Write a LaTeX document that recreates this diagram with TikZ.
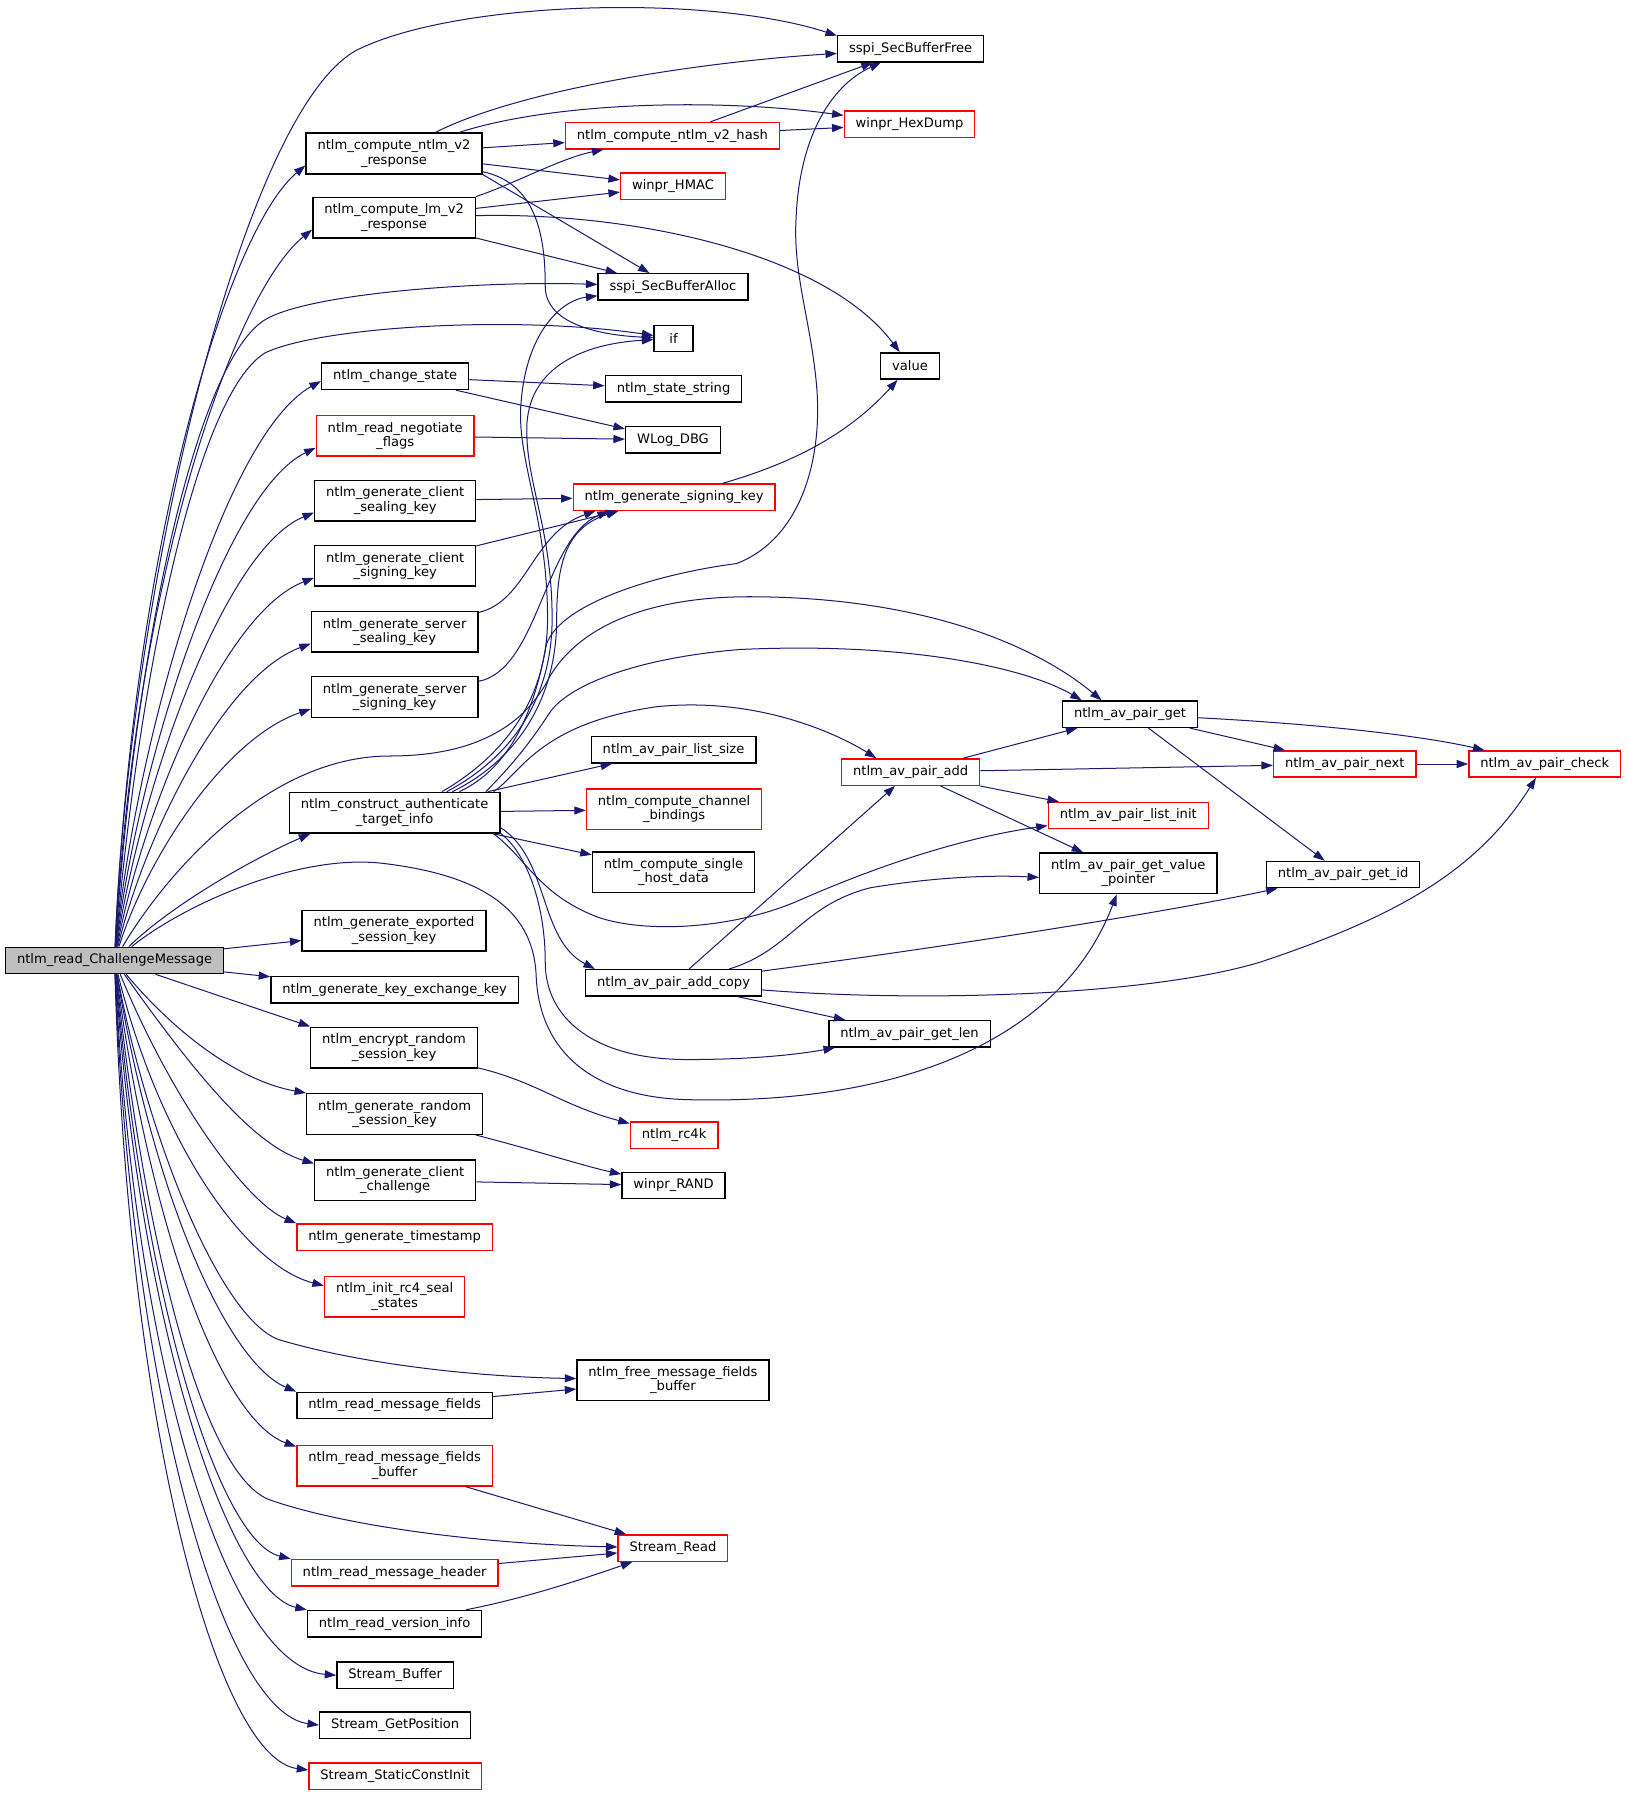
\documentclass[tikz,border=0pt]{standalone}
\usepackage{fontspec}
\setmainfont{DejaVu Sans}
\usepackage{tikz}
\usetikzlibrary{arrows.meta}
\definecolor{bleuappel}{HTML}{191970}
\definecolor{grisracine}{HTML}{BFBFBF}
\begin{document}
\begin{tikzpicture}[x=0.02cm, y=-0.02cm,
  fonc/.style={draw=black, line width=0.7pt, fill=white, inner xsep=0.2cm, inner ysep=1pt,
    minimum height=0.46cm, align=center, font=\fontsize{6.5}{7.1}\selectfont},
  fonc rouge/.style={fonc, draw=red},
  racine/.style={fonc, fill=grisracine},
  deux/.style={minimum height=0.71cm},
  appel/.style={draw=bleuappel, line width=0.5pt, -{Triangle[length=0.2cm,width=0.14cm]}}]
\useasboundingbox (0,0) rectangle (1420.4,1568.8);
% les noeuds
\node[racine] (rcm) at (100,838.5) {ntlm\_read\_ChallengeMessage};
\node[fonc] (sbfree) at (795,42.5) {sspi\_SecBufferFree};
\node[fonc rouge] (hexdump) at (794,108.5) {winpr\_HexDump};
\node[fonc, deux] (ntlmv2resp) at (344,134) {ntlm\_compute\_ntlm\_v2\\\_response};
\node[fonc rouge] (ntlmv2hash) at (587,118.5) {ntlm\_compute\_ntlm\_v2\_hash};
\node[fonc rouge] (hmac) at (587.5,162.5) {winpr\_HMAC};
\node[fonc, deux] (lmv2resp) at (344,190) {ntlm\_compute\_lm\_v2\\\_response};
\node[fonc] (sballoc) at (587.5,250.5) {sspi\_SecBufferAlloc};
\node[fonc, minimum width=0.68cm] (iff) at (588,295.5) {if};
\node[fonc] (value) at (794.5,319.5) {value};
\node[fonc] (chstate) at (345,328.5) {ntlm\_change\_state};
\node[fonc] (statestr) at (588,339.5) {ntlm\_state\_string};
\node[fonc rouge, deux] (negflags) at (345,380.5) {ntlm\_read\_negotiate\\\_flags};
\node[fonc] (wlog) at (587.5,384) {WLog\_DBG};
\node[fonc, deux] (csealkey) at (345,437) {ntlm\_generate\_client\\\_sealing\_key};
\node[fonc rouge] (signkey) at (588.5,434) {ntlm\_generate\_signing\_key};
\node[fonc, deux] (csignkey) at (345,494) {ntlm\_generate\_client\\\_signing\_key};
\node[fonc, deux] (ssealkey) at (344.5,551.5) {ntlm\_generate\_server\\\_sealing\_key};
\node[fonc, deux] (ssignkey) at (344.5,608.5) {ntlm\_generate\_server\\\_signing\_key};
\node[fonc] (apget) at (986.5,623.5) {ntlm\_av\_pair\_get};
\node[fonc] (aplsize) at (588,654.5) {ntlm\_av\_pair\_list\_size};
\node[fonc rouge] (apadd) at (795,674) {ntlm\_av\_pair\_add};
\node[fonc rouge] (apnext) at (1174,667) {ntlm\_av\_pair\_next};
\node[fonc rouge] (apcheck) at (1348.5,667) {ntlm\_av\_pair\_check};
\node[fonc, deux] (cati) at (344.5,709.5) {ntlm\_construct\_authenticate\\\_target\_info};
\node[fonc rouge, deux] (chanbind) at (588.5,706.5) {ntlm\_compute\_channel\\\_bindings};
\node[fonc rouge] (aplinit) at (985,712) {ntlm\_av\_pair\_list\_init};
\node[fonc, deux] (shdata) at (588,761.5) {ntlm\_compute\_single\\\_host\_data};
\node[fonc, deux] (apvalptr) at (985,762.5) {ntlm\_av\_pair\_get\_value\\\_pointer};
\node[fonc] (apgetid) at (1172.5,763.5) {ntlm\_av\_pair\_get\_id};
\node[fonc, deux] (expkey) at (344,812.5) {ntlm\_generate\_exported\\\_session\_key};
\node[fonc] (apcopy) at (588,858) {ntlm\_av\_pair\_add\_copy};
\node[fonc] (kxkey) at (344.5,864) {ntlm\_generate\_key\_exchange\_key};
\node[fonc] (aplen) at (794,902.5) {ntlm\_av\_pair\_get\_len};
\node[fonc, deux] (encrkey) at (344,914.5) {ntlm\_encrypt\_random\\\_session\_key};
\node[fonc, deux] (randkey) at (344.5,972.5) {ntlm\_generate\_random\\\_session\_key};
\node[fonc rouge] (rc4k) at (588.5,991) {ntlm\_rc4k};
\node[fonc, deux] (cchal) at (345,1030.5) {ntlm\_generate\_client\\\_challenge};
\node[fonc] (rand) at (588,1035) {winpr\_RAND};
\node[fonc rouge] (tstamp) at (344.5,1080) {ntlm\_generate\_timestamp};
\node[fonc rouge, deux] (rc4seal) at (344.5,1132) {ntlm\_init\_rc4\_seal\\\_states};
\node[fonc, deux] (freebuf) at (587.5,1205) {ntlm\_free\_message\_fields\\\_buffer};
\node[fonc] (rdfields) at (344.5,1227) {ntlm\_read\_message\_fields};
\node[fonc rouge, deux] (rdfbuf) at (344.5,1279.5) {ntlm\_read\_message\_fields\\\_buffer};
\node[fonc rouge] (sread) at (587.5,1351.5) {Stream\_Read};
\node[fonc rouge] (rdhdr) at (344.5,1373) {ntlm\_read\_message\_header};
\node[fonc] (rdver) at (344.5,1417.5) {ntlm\_read\_version\_info};
\node[fonc] (sbuffer) at (345,1462.5) {Stream\_Buffer};
\node[fonc] (sgetpos) at (345,1506) {Stream\_GetPosition};
\node[fonc rouge] (sinit) at (345,1550.5) {Stream\_StaticConstInit};
% appels vers le haut
\draw[appel] (rcm) .. controls (112,520) and (212,96) .. (311.8,43.6) .. controls (400,0) and (620,-5) .. (sbfree.170);
\draw[appel] (rcm) .. controls (116,470) and (200,200) .. ([yshift=4.5pt]ntlmv2resp.south west);
\draw[appel] (rcm) .. controls (118,500) and (205,255) .. ([yshift=4.5pt]lmv2resp.south west);
\draw[appel] (rcm) .. controls (118,560) and (172,315) .. (231.6,279) .. controls (270,256) and (420,245) .. (sballoc);
\draw[appel] (rcm) .. controls (120,600) and (170,345) .. (231.6,308) .. controls (280,285) and (450,275) .. (iff);
\draw[appel] (rcm) .. controls (118,650) and (195,380) .. ([yshift=4.5pt]chstate.south west);
\draw[appel] (rcm) .. controls (120,670) and (195,430) .. ([yshift=4.5pt]negflags.south west);
\draw[appel] (rcm) .. controls (122,690) and (195,480) .. ([yshift=4.5pt]csealkey.south west);
\draw[appel] (rcm) .. controls (124,710) and (195,535) .. ([yshift=4.5pt]csignkey.south west);
\draw[appel] (rcm) .. controls (126,730) and (195,590) .. ([yshift=4.5pt]ssealkey.south west);
\draw[appel] (rcm) .. controls (128,750) and (195,645) .. ([yshift=4.5pt]ssignkey.south west);
\draw[appel] (rcm) .. controls (140,770) and (230,660) .. (340,660) .. controls (420,660) and (460,630) .. (480,590.6)
  .. controls (510,540) and (580,520) .. (660,521) .. controls (800,522) and (900,560) .. (apget.154);
\draw[appel] (rcm) .. controls (150,790) and (220,750) .. (cati.194);
\draw[appel] (rcm) .. controls (160,790) and (260,745) .. (334,753.7) .. controls (430,765) and (465,800) .. (468,850)
  .. controls (470,920) and (520,958) .. (600,960) .. controls (800,965) and (930,900) .. (apvalptr.241);
\draw[appel] (rcm) -- (expkey);
\draw[appel] (rcm) -- (kxkey);
% appels vers le bas
\draw[appel] (rcm) -- (encrkey.north west);
\draw[appel] (rcm) .. controls (160,910) and (215,945) .. (randkey.north west);
\draw[appel] (rcm) .. controls (165,930) and (220,1000) .. ([yshift=-2pt]cchal.north west);
\draw[appel] (rcm) .. controls (150,960) and (215,1050) .. (tstamp.north west);
\draw[appel] (rcm) .. controls (140,1000) and (215,1105) .. ([yshift=-5pt]rc4seal.north west);
\draw[appel] (rcm) .. controls (130,1000) and (195,1155) .. (245,1170) .. controls (320,1192) and (420,1202) .. (freebuf);
\draw[appel] (rcm) .. controls (135,1050) and (200,1190) .. (rdfields.north west);
\draw[appel] (rcm) .. controls (132,1080) and (195,1240) .. ([yshift=-1pt]rdfbuf.north west);
\draw[appel] (rcm) .. controls (128,1100) and (180,1290) .. (235.9,1309.5) .. controls (300,1332) and (420,1348) .. (sread);
\draw[appel] (rcm) .. controls (125,1130) and (190,1345) .. (rdhdr.north west);
\draw[appel] (rcm) .. controls (122,1160) and (200,1390) .. (rdver.north west);
\draw[appel] (rcm) .. controls (118,1200) and (200,1455) .. (sbuffer.west);
\draw[appel] (rcm) .. controls (115,1220) and (195,1495) .. (sgetpos.west);
\draw[appel] (rcm) .. controls (112,1250) and (190,1535) .. ([yshift=3pt]sinit.west);
% colonne du milieu
\draw[appel] (ntlmv2resp) .. controls (450,80) and (600,55) .. (sbfree);
\draw[appel] (ntlmv2resp) .. controls (480,90) and (620,85) .. (hexdump);
\draw[appel] (ntlmv2resp) -- (ntlmv2hash);
\draw[appel] (ntlmv2resp) -- (hmac);
\draw[appel] (ntlmv2resp.south east) -- (sballoc);
\draw[appel] (ntlmv2resp) .. controls (470,160) and (476,210) .. (476,250) .. controls (476,285) and (530,293) .. (iff);
\draw[appel] (ntlmv2hash) -- (sbfree);
\draw[appel] (ntlmv2hash) -- (hexdump);
\draw[appel] (lmv2resp.north east) .. controls (450,160) and (490,138) .. (ntlmv2hash);
\draw[appel] (lmv2resp) -- (hmac);
\draw[appel] (lmv2resp) .. controls (550,185) and (720,220) .. (value);
\draw[appel] (lmv2resp) -- (sballoc);
\draw[appel] (chstate) -- (statestr);
\draw[appel] (chstate) -- (wlog);
\draw[appel] (negflags) -- (wlog);
\draw[appel] (csealkey) -- (signkey);
\draw[appel] (csignkey) -- (signkey);
\draw[appel] (ssealkey) .. controls (460,525) and (465,465) .. (signkey.190);
\draw[appel] (ssignkey) .. controls (470,585) and (475,470) .. (signkey.192);
\draw[appel] (signkey) .. controls (690,405) and (740,380) .. (value);
% ntlm_construct_authenticate_target_info
\draw[appel] (cati.24) .. controls (440,660) and (478,610) .. (478,540) .. controls (478,450) and (450,400) .. (455,350)
  .. controls (460,290) and (490,262) .. (sballoc);
\draw[appel] (cati.22) .. controls (445,662) and (482,612) .. (482,540) .. controls (482,460) and (458,420) .. (460,370)
  .. controls (463,320) and (510,300) .. (iff);
\draw[appel] (cati.20) .. controls (450,664) and (486,612) .. (486,540) .. controls (486,490) and (495,460) .. (signkey.194);
\draw[appel] (cati.18) .. controls (455,666) and (470,600) .. (477,562.6) .. controls (490,525) and (580,500) .. (643,492)
  .. controls (700,470) and (718,400) .. (713,338) .. controls (708,280) and (692,240) .. (695,190)
  .. controls (698,120) and (725,75) .. (sbfree);
\draw[appel] (cati.13) .. controls (450,665) and (465,645) .. (480,622) .. controls (495,600) and (550,575) .. (646,567)
  .. controls (800,560) and (900,585) .. (apget.164);
\draw[appel] (cati.12) .. controls (455,675) and (470,632) .. (573,617) .. controls (660,608) and (730,640) .. (apadd.158);
\draw[appel] (cati) -- (aplsize);
\draw[appel] (cati) -- (chanbind);
\draw[appel] (cati) -- (shdata);
\draw[appel] (cati.348) .. controls (460,750) and (470,780) .. (520,800) .. controls (560,815) and (640,812) .. (700,785)
  .. controls (780,750) and (850,730) .. ([yshift=-5pt]aplinit.west);
\draw[appel] (cati.352) .. controls (480,750) and (470,820) .. (apcopy.170);
\draw[appel] (cati.349) .. controls (460,745) and (476,790) .. (476,840) .. controls (476,890) and (520,925) .. (600,925)
  .. controls (660,925) and (700,920) .. (aplen);
% paires av
\draw[appel] (apadd) -- (apget);
\draw[appel] (apadd) -- (apnext);
\draw[appel] (apadd) -- (aplinit);
\draw[appel] (apadd) -- (apvalptr);
\draw[appel] (apget) -- (apnext);
\draw[appel] (apget) .. controls (1150,632) and (1240,642) .. (apcheck);
\draw[appel] (apget) -- (apgetid);
\draw[appel] (apnext) -- (apcheck);
\draw[appel] (apcopy) -- (apadd);
\draw[appel] (apcopy.14) .. controls (690,830) and (700,790) .. (760,775) .. controls (820,765) and (870,764) .. ([yshift=-2pt]apvalptr.west);
\draw[appel] (apcopy) .. controls (800,830) and (1000,800) .. (apgetid);
\draw[appel] (apcopy) .. controls (800,875) and (1000,870) .. (1100,840) .. controls (1220,800) and (1290,760) .. (apcheck);
\draw[appel] (apcopy) -- (aplen);
% le reste
\draw[appel] (encrkey) .. controls (470,945) and (490,965) .. (rc4k);
\draw[appel] (randkey) .. controls (470,1005) and (510,1018) .. (rand);
\draw[appel] (cchal) -- (rand);
\draw[appel] (rdfields) -- (freebuf);
\draw[appel] (rdfbuf) -- (sread);
\draw[appel] (rdhdr) -- (sread);
\draw[appel] (rdver) .. controls (460,1395) and (510,1378) .. (sread);
\end{tikzpicture}
\end{document}
